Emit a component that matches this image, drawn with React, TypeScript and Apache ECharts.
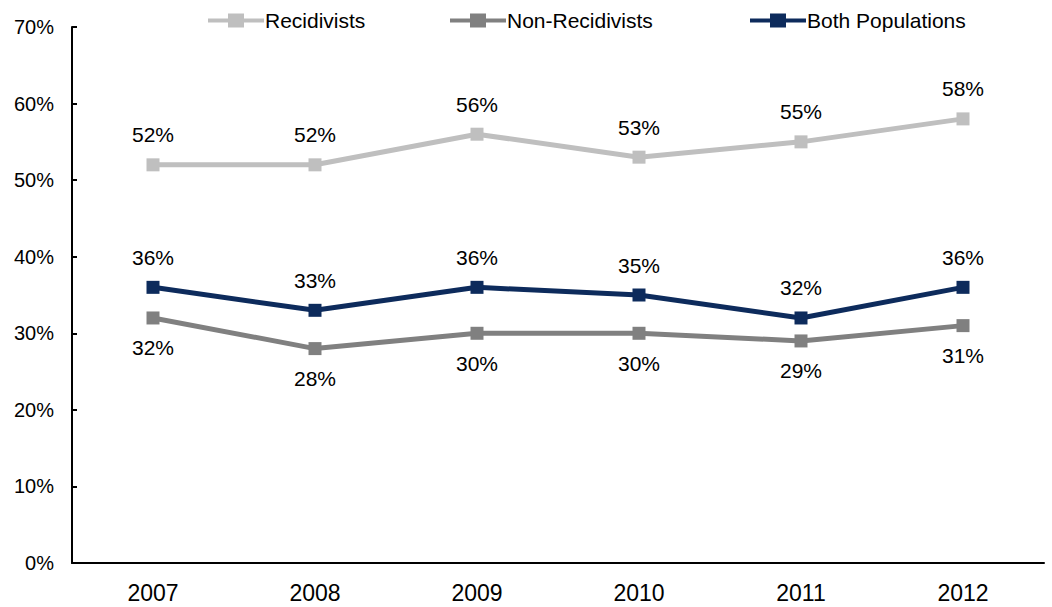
import React, { useEffect, useRef } from "react";
import * as echarts from "echarts";

const years = ["2007", "2008", "2009", "2010", "2011", "2012"];
const recidivists = [52, 52, 56, 53, 55, 58];
const nonRecidivists = [32, 28, 30, 30, 29, 31];
const bothPopulations = [36, 33, 36, 35, 32, 36];
const seriesNames = ["Recidivists", "Non-Recidivists", "Both Populations"];

const FONT = "Liberation Sans";
const ICON = "path://M0,5H20V0H36V5H56V9H36V14H20V9H0Z";
const legendLefts = [203, 445, 745];

export default function App() {
  const ref = useRef<HTMLDivElement>(null);
  useEffect(() => {
    const chart = echarts.init(ref.current!, null, { renderer: "svg" });
    const mk = (name: string, data: number[], color: string, pos: string) => ({
      name,
      type: "line",
      data,
      symbol: "rect",
      symbolSize: 13,
      lineStyle: { color, width: 5 },
      itemStyle: { color },
      label: {
        show: true,
        position: pos,
        distance: 13,
        formatter: "{c}%",
        color: "#000",
        fontFamily: FONT,
        fontSize: 21,
      },
    });
    chart.setOption({
      animation: false,
      grid: { left: 72, right: 8, top: 27, bottom: 44, containLabel: false },
      legend: seriesNames.map((n, i) => ({
        top: 5,
        left: legendLefts[i],
        itemWidth: 56,
        itemHeight: 14,
        textStyle: { fontFamily: FONT, fontSize: 21, color: "#000", padding: [0, 0, 0, -4] },
        data: [{ name: n, icon: ICON }],
      })),
      xAxis: {
        type: "category",
        data: years,
        boundaryGap: true,
        axisLine: { lineStyle: { color: "#000", width: 2 } },
        axisTick: { show: false },
        axisLabel: { fontFamily: FONT, fontSize: 23, color: "#000", margin: 18 },
      },
      yAxis: {
        type: "value",
        min: 0,
        max: 70,
        interval: 10,
        axisLine: { show: true, lineStyle: { color: "#000", width: 2 } },
        axisTick: { show: true, inside: true, length: 5, lineStyle: { color: "#000", width: 2 } },
        splitLine: { show: false },
        axisLabel: { formatter: "{value}%", fontFamily: FONT, fontSize: 20, color: "#000", margin: 18 },
      },
      series: [
        mk(seriesNames[0], recidivists, "#BFBFBF", "top"),
        mk(seriesNames[1], nonRecidivists, "#808080", "bottom"),
        mk(seriesNames[2], bothPopulations, "#0D2B5C", "top"),
      ],
    });
    return () => chart.dispose();
  }, []);
  return <div ref={ref} style={{ width: 1052, height: 607, position: "absolute", left: 0, top: 0 }} />;
}
